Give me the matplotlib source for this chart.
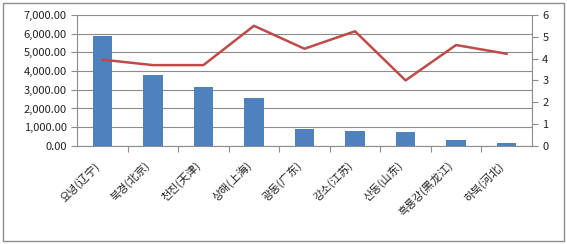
import matplotlib.pyplot as plt
import matplotlib.patches as patches
import matplotlib.transforms as mtransforms
from matplotlib.ticker import FuncFormatter, MultipleLocator

plt.rcParams['font.family'] = ['Noto Sans CJK KR', 'DejaVu Sans']

# dane
regiony = ["요녕(辽宁)", "북경(北京)", "천진(天津)", "상해(上海)", "광동(广东)",
           "강소(江苏)", "산동(山东)", "흑룡강(黑龙江)", "하북(河北)"]
slupki = [5850, 3800, 3170, 2580, 920, 790, 730, 330, 180]
linia = [3.95, 3.7, 3.7, 5.5, 4.45, 5.25, 3.0, 4.62, 4.22]

fig = plt.figure(figsize=(5.67, 2.44), dpi=100)
ax = fig.add_axes([0.136, 0.402, 0.802, 0.537])
x = list(range(len(regiony)))

ax.bar(x, slupki, width=0.38, color='#4F81BD', zorder=3)
ax.set_ylim(0, 7000)
ax.set_xlim(-0.5, len(regiony) - 0.5)
ax.yaxis.set_major_locator(MultipleLocator(1000))
ax.yaxis.set_major_formatter(FuncFormatter(lambda v, p: "{:,.2f}".format(v)))
ax.grid(axis='y', color='#8c8c8c', linewidth=0.8, zorder=0)
ax.set_xticks([i + 0.5 for i in x[:-1]], minor=False)
ax.set_xticklabels([])
ax.set_xticks(x, minor=True)
ax.set_xticklabels(regiony, minor=True, rotation=45, ha='right', va='top',
                   rotation_mode='anchor', fontsize=8, color='#222222')
ax.tick_params(axis='x', which='minor', length=0, pad=10)
ax.tick_params(axis='x', which='major', length=4, direction='out', color='#8c8c8c')
ax.tick_params(axis='y', length=4, color='#8c8c8c', labelsize=8, colors='#222222')
# lekkie przesuniecie etykiet w lewo
przes = mtransforms.ScaledTranslation(-6 / 72, 0, fig.dpi_scale_trans)
for lab in ax.get_xticklabels(minor=True):
    lab.set_transform(lab.get_transform() + przes)
for s in ['top', 'right']:
    ax.spines[s].set_visible(False)
ax.spines['left'].set_color('#8c8c8c')
ax.spines['bottom'].set_color('#8c8c8c')

ax2 = ax.twinx()
ax2.plot(x, linia, color='#BE4B48', linewidth=1.8, zorder=4)
ax2.set_ylim(0, 6)
ax2.yaxis.set_major_locator(MultipleLocator(1))
ax2.tick_params(axis='y', length=4, color='#8c8c8c', labelsize=8, colors='#222222')
for s in ['top', 'left', 'bottom']:
    ax2.spines[s].set_visible(False)
ax2.spines['right'].set_color('#8c8c8c')

# ramka wykresu
fig.patches.append(patches.Rectangle((0.006, 0.012), 0.988, 0.976, transform=fig.transFigure,
                                     fill=False, edgecolor='#8c8c8c', linewidth=1))

plt.savefig("out.png", dpi=100)
